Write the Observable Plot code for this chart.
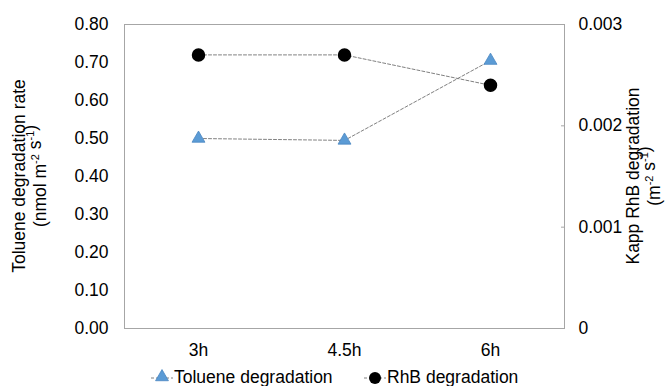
<!DOCTYPE html>
<html><head><meta charset="utf-8">
<script src="https://cdn.jsdelivr.net/npm/d3@7"></script>
<script src="https://cdn.jsdelivr.net/npm/@observablehq/plot@0.6"></script>
<style>
body{margin:0;background:#fff;font-family:"Liberation Sans",Arial,sans-serif;}
#legend{position:relative;width:665px;height:24px;font-size:17.5px;color:#000;}
.item{position:absolute;top:3px;height:24px;display:flex;align-items:center;}
</style>
</head><body><div id="chart"></div><div id="legend"></div>
<script>
const categories = ["3h", "4.5h", "6h"];
const toluene = [0.50, 0.495, 0.705];
const rhb = [0.0027, 0.0027, 0.0024];
const leftTicks = [0, 0.1, 0.2, 0.3, 0.4, 0.5, 0.6, 0.7, 0.8];
const rightTicks = [0, 0.001, 0.002, 0.003];
const seriesNames = ["Toluene degradation", "RhB degradation"];

const k = 0.8 / 0.003;
const tolData = categories.map((c, i) => ({cat: c, v: toluene[i]}));
const rhbData = categories.map((c, i) => ({cat: c, v: rhb[i] * k}));

const plot = Plot.plot({
  width: 665, height: 362,
  marginLeft: 124, marginRight: 101, marginTop: 24, marginBottom: 34,
  style: {fontFamily: "Liberation Sans, Arial, sans-serif", fontSize: "17.5px", color: "#000", background: "#fff"},
  x: {type: "point", domain: categories, padding: 0.5},
  y: {domain: [0, 0.8]},
  marks: [
    Plot.frame({stroke: "#a6a6a6"}),
    Plot.axisX({tickSize: 0, tickPadding: 15, label: null}),
    Plot.axisY(leftTicks, {anchor: "left", tickSize: 0, tickPadding: 16, tickFormat: d => d.toFixed(2), label: null}),
    Plot.axisY(rightTicks.map(t => t * k), {anchor: "right", tickSize: -4, tickPadding: 18, stroke: "#a6a6a6",
      tickFormat: d => { const v = d / k; return Math.abs(v) < 1e-9 ? "0" : v.toFixed(3); }, label: null}),
    Plot.line(tolData, {x: "cat", y: "v", stroke: "#808080", strokeWidth: 1, strokeDasharray: "3,2"}),
    Plot.line(rhbData, {x: "cat", y: "v", stroke: "#808080", strokeWidth: 1, strokeDasharray: "3,2"}),
    Plot.dot(tolData, {x: "cat", y: "v", symbol: "triangle", r: 4.8, fill: "#5B9BD5", stroke: "#4a87c2", strokeWidth: 0.8}),
    Plot.dot(rhbData, {x: "cat", y: "v", symbol: "circle", r: 6, fill: "#000", stroke: "#000"})
  ]
});
document.getElementById("chart").appendChild(plot);

const svg = d3.select(plot);
function title(x, y, parts) {
  const t = svg.append("text")
    .attr("transform", `translate(${x},${y}) rotate(-90)`)
    .attr("text-anchor", "middle")
    .attr("dominant-baseline", "middle")
    .style("font-family", "Liberation Sans, Arial, sans-serif")
    .style("font-size", "17.5px")
    .attr("fill", "#000");
  parts.forEach(p => {
    if (p.sup) {
      t.append("tspan").attr("dy", "-0.45em").style("font-size", "11px").text(p.t);
      t.append("tspan").attr("dy", "0.45em").text("");
    } else {
      t.append("tspan").text(p.t);
    }
  });
}
title(20, 176, [{t: "Toluene degradation rate"}]);
title(41, 176, [{t: "(nmol m"}, {t: "-2", sup: true}, {t: " s"}, {t: "-1", sup: true}, {t: ")"}]);
title(634, 176, [{t: "Kapp RhB degradation"}]);
title(655, 176, [{t: "(m"}, {t: "-2", sup: true}, {t: " s"}, {t: "-1", sup: true}, {t: ")"}]);

// legend
const legend = d3.select("#legend");
function legendItem(left, name, shape) {
  const it = legend.append("div").attr("class", "item").style("left", left + "px");
  const s = it.append("svg").attr("width", 24).attr("height", 24);
  s.append("line").attr("x1", 1).attr("x2", 23).attr("y1", 13).attr("y2", 13)
    .attr("stroke", "#808080").attr("stroke-dasharray", "3,2");
  if (shape === "triangle") {
    s.append("path").attr("transform", "translate(12,12)").attr("d", d3.symbol(d3.symbolTriangle, 72)())
      .attr("fill", "#5B9BD5").attr("stroke", "#4a87c2").attr("stroke-width", 0.8);
  } else {
    s.append("circle").attr("cx", 12).attr("cy", 13).attr("r", 6).attr("fill", "#000");
  }
  it.append("span").style("margin-left", "0px").text(name);
}
legendItem(150, seriesNames[0], "triangle");
legendItem(363, seriesNames[1], "circle");
</script>
</body></html>
